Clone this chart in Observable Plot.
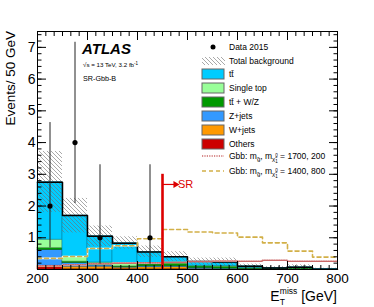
<!DOCTYPE html>
<html><head><meta charset="utf-8">
<script src="https://cdn.jsdelivr.net/npm/d3@7"></script>
<script src="https://cdn.jsdelivr.net/npm/@observablehq/plot@0.6"></script>
<style>
html,body{margin:0;padding:0;background:#fff;}
#chart svg{display:block;}
#chart svg g.anno text{font-family:'Liberation Sans', Arial, Helvetica, sans-serif;}
</style></head><body>
<svg width="0" height="0" style="position:absolute">
<defs><pattern id="hatch" patternUnits="userSpaceOnUse" width="4" height="4">
<path d="M-1,-1 L5,5 M3,-1 L5,1 M-1,3 L1,5" stroke="#6e6e6e" stroke-width="0.6"/>
</pattern></defs></svg>
<div id="chart"></div>
<script>
// ---- data ----
const binLow = [200,250,300,350,400,450,500,550,600,650,700,750];
const binWidth = 50;
const compNames  = ["Others","W+jets","Z+jets","tt\u0304 + W/Z","Single top","tt\u0304"];
const compColors = ["#cc0000","#ff9900","#3399ff","#009900","#99ff99","#00ccff"];
const others    = [0.07,0.02,0.02,0.02,0.01,0.02,0.00,0.00,0.00,0.00,0.00,0.00];
const wjets     = [0.05,0.07,0.07,0.04,0.06,0.06,0.02,0.01,0.01,0.00,0.00,0.00];
const zjets     = [0.50,0.12,0.04,0.01,0.03,0.02,0.03,0.02,0.01,0.01,0.01,0.00];
const ttV       = [0.06,0.04,0.06,0.03,0.06,0.10,0.05,0.06,0.03,0.02,0.03,0.00];
const singleTop = [0.26,0.15,0.03,0.10,0.02,0.04,0.02,0.02,0.00,0.00,0.00,0.00];
const ttbar     = [1.81,1.30,0.83,0.63,0.37,0.16,0.13,0.13,0.05,0.02,0.03,0.01];
const bandLo    = [1.80,1.15,0.72,0.64,0.38,0.26,0.14,0.12,0.04,0.00,0.00,0.00];
const bandHi    = [3.72,2.24,1.37,1.03,0.74,0.56,0.36,0.36,0.17,0.09,0.15,0.04];
const sig1700_200 = [0.12,0.15,0.18,0.20,0.21,0.22,0.25,0.27,0.26,0.29,0.26,0.26];
const sig1400_800 = [0.35,0.41,0.66,0.75,0.97,1.26,1.18,1.15,1.02,0.84,0.58,0.39];
const dataX    = [225,275,325,425];
const dataN    = [2,4,1,1];
const dataErrLo = [0.68,2.08,0.17,0.17];
const dataErrHi = [4.63,7.16,3.30,3.30];
const srCut = 450, srTop = 3.0, srArrowY = 2.68, srArrowEnd = 476, srLabelX = 481;
const xTicks = [200,300,400,500,600,700,800];
const yTicks = [1,2,3,4,5,6,7];
const xMinorTicks = d3.range(200, 800.01, 100/6);
const yMinorTicks = d3.range(0, 7.51, 0.2);
const yMajorTicks = [0,1,2,3,4,5,6,7];

// ---- build tables ----
const compValues = [others,wjets,zjets,ttV,singleTop,ttbar];
const rows = [];
binLow.forEach((x,i) => compNames.forEach((n,k) => rows.push({
  x1: x, x2: x + binWidth, comp: n, value: compValues[k][i],
  fill: compColors[k], stroke: d3.color(compColors[k]).darker(1.2).formatHex()
})));
const total = binLow.map((_,i) => d3.sum(compValues, v => v[i]));
const steps = arr => [...binLow.map((x,i)=>({x, y: arr[i]})), {x: binLow[binLow.length-1]+binWidth, y: arr[arr.length-1]}];
const band = binLow.map((x,i)=>({x1:x, x2:x+binWidth, lo:bandLo[i], hi:bandHi[i]}));
const dataPts = dataX.map((x,i)=>({x, y:dataN[i], lo:dataErrLo[i], hi:dataErrHi[i]}));
const red = "#dd0000";
const sigRed = "#cc6a6a", sigGold = "#d2b048";

const font = "'Liberation Sans', Arial, Helvetica, sans-serif";
const plot = Plot.plot({
  width: 374, height: 307,
  marginLeft: 37, marginRight: 37, marginTop: 31, marginBottom: 38,
  x: {domain: [200, 800]},
  y: {domain: [0, 7.5]},
  color: {type: "identity"},
  style: {fontFamily: font, fontSize: "13px", color: "#000", background: "#fff", overflow: "visible"},
  marks: [
    Plot.rectY(rows, {x1: "x1", x2: "x2", y: "value", fill: "fill", stroke: "stroke", strokeWidth: 0.6}),
    Plot.rect(band, {x1: "x1", x2: "x2", y1: "lo", y2: "hi", fill: "url(#hatch)"}),
    Plot.line(steps(total), {x: "x", y: "y", curve: "step-after", stroke: "#000", strokeWidth: 1.5}),
    Plot.line(steps(sig1700_200), {x: "x", y: "y", curve: "step-after", stroke: "#fff", strokeWidth: 1.6}),
    Plot.line(steps(sig1700_200), {x: "x", y: "y", curve: "step-after", stroke: sigRed, strokeWidth: 1.6, strokeDasharray: "1.2,1.2"}),
    Plot.line(steps(sig1400_800), {x: "x", y: "y", curve: "step-after", stroke: "#fff", strokeWidth: 1.6}),
    Plot.line(steps(sig1400_800), {x: "x", y: "y", curve: "step-after", stroke: sigGold, strokeWidth: 1.6, strokeDasharray: "4,3"}),
    Plot.ruleX(dataPts, {x: "x", y1: "lo", y2: "hi", stroke: "#222", strokeWidth: 1}),
    Plot.dot(dataPts, {x: "x", y: "y", r: 2.6, fill: "#000"}),
    Plot.ruleX([srCut], {y1: 0, y2: srTop, stroke: red, strokeWidth: 2.6}),
    Plot.ruleY([srArrowY], {x1: srCut, x2: srArrowEnd, stroke: red, strokeWidth: 1.2}),
    Plot.dot([srArrowEnd], {x: d => d, y: srArrowY, symbol: "triangle2", rotate: 90, r: 3.4, fill: red}),
    Plot.text(["SR"], {x: srLabelX, y: srArrowY, text: d => d, textAnchor: "start", fill: red, fontSize: 11}),
    Plot.frame({stroke: "#000", strokeWidth: 1}),
    // ticks (inward, all four sides)
    Plot.axisX(xTicks, {anchor: "bottom", tickSize: -8, tickFormat: () => "", label: null}),
    Plot.axisX(xTicks, {anchor: "top", tickSize: -8, tickFormat: () => "", label: null}),
    Plot.axisX(xMinorTicks, {anchor: "bottom", tickSize: -4, tickFormat: () => "", label: null}),
    Plot.axisX(xMinorTicks, {anchor: "top", tickSize: -4, tickFormat: () => "", label: null}),
    Plot.axisY(yMajorTicks, {anchor: "left", tickSize: -9, tickFormat: () => "", label: null}),
    Plot.axisY(yMajorTicks, {anchor: "right", tickSize: -9, tickFormat: () => "", label: null}),
    Plot.axisY(yMinorTicks, {anchor: "left", tickSize: -4.5, tickFormat: () => "", label: null}),
    Plot.axisY(yMinorTicks, {anchor: "right", tickSize: -4.5, tickFormat: () => "", label: null}),
    // tick labels
    Plot.axisX(xTicks, {anchor: "bottom", tickSize: 0, tickPadding: 4, label: null, fontSize: 13.5}),
    Plot.axisY(yTicks, {anchor: "left", tickSize: 0, tickPadding: 2, label: null, fontSize: 14})
  ]
});
document.getElementById("chart").appendChild(plot);

// ---- text annotations, axis titles and legend ----
const svg = d3.select(plot);
const g = svg.append("g").attr("class", "anno").attr("fill", "#000").attr("text-anchor", "start");

// y-axis title
g.append("text").attr("transform", "translate(15,31) rotate(-90)")
  .attr("text-anchor", "end").attr("font-size", 13.5).text("Events/ 50 GeV");
// x-axis title E_T^miss [GeV]
const xt = g.append("text").attr("x", 337).attr("y", 301).attr("text-anchor", "end").attr("font-size", 14);
xt.append("tspan").text("E");
xt.append("tspan").attr("font-size", 8.5).attr("dy", 4).text("T");
xt.append("tspan").attr("font-size", 8.5).attr("dy", -11.5).attr("dx", -5).text("miss");
xt.append("tspan").attr("dy", 7.5).text(" [GeV]");

// ATLAS label
g.append("text").attr("x", 82).attr("y", 54).attr("font-size", 15).attr("font-weight", "bold")
  .attr("font-style", "italic").text("ATLAS");
const lum = g.append("text").attr("x", 83).attr("y", 67).attr("font-size", 6.2);
lum.append("tspan").text("\u221As = 13 TeV, 3.2 fb");
lum.append("tspan").attr("font-size", 4.5).attr("dy", -2.5).text("-1");
g.append("text").attr("x", 83).attr("y", 81).attr("font-size", 7.2).text("SR-Gbb-B");

// legend
const lx = 202, lw = 22, tx = 229, fs = 8.5;
const legText = (y, s) => g.append("text").attr("x", tx).attr("y", y).attr("dy", "0.35em").attr("font-size", fs).text(s);
g.append("circle").attr("cx", lx + lw/2).attr("cy", 47).attr("r", 2.5).attr("fill", "#000");
legText(47, "Data 2015");
g.append("rect").attr("x", lx).attr("y", 57).attr("width", lw + 1).attr("height", 8).attr("fill", "url(#hatch)");
legText(61, "Total background");
const legRows = [[74, 5],[88, 4],[102, 3],[116, 2],[130, 1],[144, 0]];
legRows.forEach(([y,k]) => {
  g.append("rect").attr("x", lx).attr("y", y - 5).attr("width", lw).attr("height", 10)
    .attr("fill", compColors[k]).attr("stroke", "#666").attr("stroke-width", 1);
  legText(y, compNames[k]);
});
const sigLeg = [[156, sigRed, "1.2,1.2", "1700, 200"], [171, sigGold, "4,3", "1400, 800"]];
sigLeg.forEach(([y, c, dash, vals]) => {
  g.append("line").attr("x1", lx).attr("x2", lx + lw).attr("y1", y).attr("y2", y)
    .attr("stroke", c).attr("stroke-width", 1.5).attr("stroke-dasharray", dash);
  const t = g.append("text").attr("x", tx).attr("y", y).attr("dy", "0.35em").attr("font-size", fs);
  t.append("tspan").text("Gbb: m");
  t.append("tspan").attr("font-size", 6).attr("dy", 2).text("g\u0303");
  t.append("tspan").attr("dy", -2).text(", m");
  t.append("tspan").attr("font-size", 6).attr("dy", 2).text("\u03C7\u0303");
  t.append("tspan").attr("font-size", 4.5).attr("dy", 2).text("1");
  t.append("tspan").attr("font-size", 4.5).attr("dy", -6).attr("dx", -2.5).text("0");
  t.append("tspan").attr("dy", 2).text(" = " + vals);
});
</script>
</body></html>
